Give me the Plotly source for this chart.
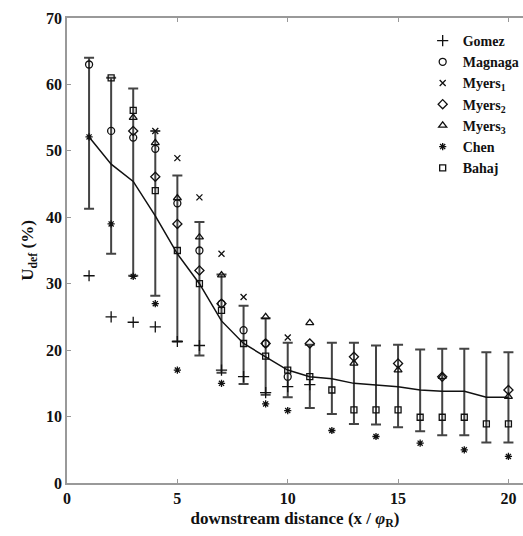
import plotly.graph_objects as go

x_all = list(range(1, 21))
mean_line = [52.1, 48.0, 45.4, 40.2, 34.5, 30.0, 24.4, 21.0, 19.0, 17.0, 16.0, 15.7, 15.0, 14.7, 14.5, 14.0, 13.8, 13.8, 12.9, 12.9]
err_upper = [64.0, 61.0, 59.4, 53.0, 46.3, 39.3, 31.4, 26.7, 24.8, 21.1, 20.8, 21.1, 21.1, 20.7, 20.8, 20.1, 20.2, 20.2, 19.7, 19.7]
err_lower = [41.3, 34.5, 31.2, 28.2, 21.3, 19.2, 16.6, 14.9, 13.3, 12.9, 11.3, 10.4, 8.9, 8.8, 8.4, 7.8, 7.2, 7.2, 6.1, 6.1]

gomez_x = [1, 2, 3, 4, 5, 6, 7, 8, 9, 10, 11]
gomez_y = [31.2, 25.0, 24.2, 23.5, 21.3, 20.7, 17.0, 16.0, 13.6, 14.5, 14.8]

magnaga_x = [1, 2, 3, 4, 5, 6, 7, 8, 9, 10]
magnaga_y = [63.0, 53.0, 52.0, 50.3, 42.1, 35.0, 27.0, 23.0, 21.0, 16.0]

myers1_x = [4, 5, 6, 7, 8, 10]
myers1_y = [53.0, 48.9, 43.0, 34.5, 28.0, 21.9]

myers2_x = [3, 4, 5, 6, 7, 9, 11, 13, 15, 17, 20]
myers2_y = [53.0, 46.1, 39.0, 32.0, 27.0, 21.0, 21.0, 19.0, 18.0, 16.0, 14.0]

myers3_x = [3, 4, 5, 6, 7, 9, 11, 13, 15, 17, 20]
myers3_y = [55.0, 51.2, 42.9, 37.0, 31.3, 25.0, 24.1, 18.0, 17.0, 16.0, 13.0]

chen_x = [1, 2, 3, 4, 5, 7, 9, 10, 12, 14, 16, 18, 20]
chen_y = [52.1, 39.0, 31.1, 27.0, 17.0, 15.0, 11.9, 10.9, 7.9, 7.0, 6.0, 5.0, 4.0]

bahaj_x = list(range(2, 21))
bahaj_y = [61.0, 56.1, 44.0, 35.0, 30.0, 26.0, 21.0, 19.1, 17.0, 16.0, 14.0, 11.0, 11.0, 11.0, 9.9, 9.9, 9.9, 8.9, 8.9]

x_ticks = [0, 5, 10, 15, 20]
y_ticks = [0, 10, 20, 30, 40, 50, 60, 70]

FONT = "Liberation Serif"

fig = go.Figure()

err_plus = [u - m for u, m in zip(err_upper, mean_line)]
err_minus = [m - l for m, l in zip(mean_line, err_lower)]

fig.add_trace(go.Scatter(
    x=x_all, y=mean_line, mode="lines",
    line=dict(color="#111111", width=1.5),
    error_y=dict(type="data", symmetric=False, array=err_plus, arrayminus=err_minus,
                 color="#444444", thickness=2, width=5),
    showlegend=False, hoverinfo="skip"))

series = [
    ("Gomez", gomez_x, gomez_y, "cross-thin-open", 8),
    ("Magnaga", magnaga_x, magnaga_y, "circle-open", 7),
    ("Myers<sub>1</sub>", myers1_x, myers1_y, "x-thin-open", 6),
    ("Myers<sub>2</sub>", myers2_x, myers2_y, "diamond-open", 7),
    ("Myers<sub>3</sub>", myers3_x, myers3_y, "triangle-up-open", 7),
    ("Chen", chen_x, chen_y, "asterisk-open", 6),
    ("Bahaj", bahaj_x, bahaj_y, "square-open", 6),
]
for name, xs, ys, sym, sz in series:
    fig.add_trace(go.Scatter(
        x=xs, y=ys, mode="markers", name=name,
        marker=dict(symbol=sym, size=sz, color="#111111",
                    line=dict(color="#111111", width=1.3))))

fig.update_layout(
    width=523, height=536,
    margin=dict(l=67, r=0, t=18, b=53, autoexpand=False),
    paper_bgcolor="white", plot_bgcolor="white",
    font=dict(family=FONT, color="#111111", size=15, weight="bold"),
    showlegend=True,
    legend=dict(x=0.78, y=0.985, xanchor="left", yanchor="top",
                bgcolor="rgba(0,0,0,0)", borderwidth=0,
                font=dict(family=FONT, size=14, color="#111111", weight="bold"),
                itemwidth=30, tracegroupgap=4),
    xaxis=dict(range=[0, 20.66], tickvals=x_ticks, ticks="inside", ticklen=4,
               tickcolor="#999999", showline=True, linecolor="#999999", linewidth=1.5,
               mirror="ticks", showgrid=False, zeroline=False,
               tickfont=dict(family=FONT, size=16, color="#111111", weight="bold"),
               title=dict(text="downstream distance (x / <i>φ</i><sub>R</sub>)",
                          font=dict(family=FONT, size=17, color="#111111", weight="bold"),
                          standoff=6)),
    yaxis=dict(range=[0, 70], tickvals=y_ticks, ticks="inside", ticklen=4,
               tickcolor="#999999", showline=True, linecolor="#999999", linewidth=1.5,
               showgrid=False, zeroline=False,
               tickfont=dict(family=FONT, size=16, color="#111111", weight="bold"),
               title=dict(text="U<sub>def</sub> (%)",
                          font=dict(family=FONT, size=17, color="#111111", weight="bold"),
                          standoff=8)),
)

fig.write_html("out.html")
